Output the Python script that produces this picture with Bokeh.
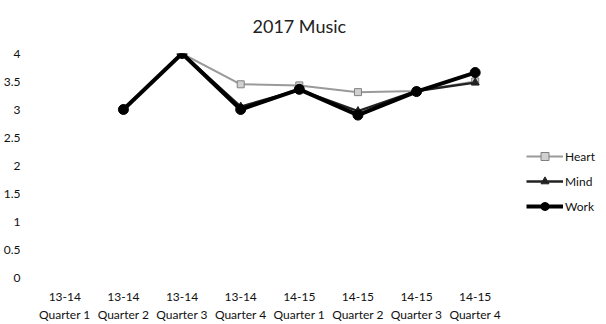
import numpy as np
from bokeh.plotting import figure
from bokeh.models import Legend, LegendItem, FixedTicker, Range1d
from bokeh.embed import file_html
from bokeh.resources import INLINE

years = ["13-14", "13-14", "13-14", "13-14", "14-15", "14-15", "14-15", "14-15"]
quarters = ["Quarter 1", "Quarter 2", "Quarter 3", "Quarter 4",
            "Quarter 1", "Quarter 2", "Quarter 3", "Quarter 4"]
heart = [np.nan, 3.0, 4.0, 3.45, 3.43, 3.31, 3.33, 3.5]
mind = [np.nan, 3.0, 4.0, 3.05, 3.35, 2.97, 3.33, 3.48]
work = [np.nan, 3.0, 4.0, 3.0, 3.36, 2.9, 3.32, 3.66]
y_ticks = [0, 0.5, 1, 1.5, 2, 2.5, 3, 3.5, 4]

FONT = "Lato"
x = list(range(1, len(years) + 1))

p = figure(frame_width=469, frame_height=224, output_backend="svg", toolbar_location=None,
           x_range=Range1d(0.5, len(x) + 0.5), y_range=Range1d(0, 4),
           min_border_left=28, min_border_right=0, min_border_top=46,
           min_border_bottom=30)
p.title.text = "2017 Music"
p.title.align = "left"
p.title.vertical_align = "top"
p.title.text_font = FONT
p.title.text_font_size = "18px"
p.title.text_font_style = "normal"
p.title.text_color = "#222222"
p.title.text_line_height = 0.6
p.title.offset = 217
p.title.standoff = 29

p.outline_line_color = None
p.xgrid.grid_line_color = None
p.ygrid.grid_line_color = None

for ax in (p.xaxis[0], p.yaxis[0]):
    ax.axis_line_color = None
    ax.major_tick_line_color = None
    ax.minor_tick_line_color = None
    ax.major_tick_out = 0
    ax.major_tick_in = 0
    ax.major_label_text_font = FONT
    ax.major_label_text_color = "#111111"
    ax.major_label_text_font_size = "12px"

p.yaxis.ticker = FixedTicker(ticks=y_ticks)
p.yaxis.major_label_overrides = {t: ("%g" % t) for t in y_ticks}
p.yaxis.major_label_standoff = 15
p.xaxis.ticker = FixedTicker(ticks=x)
p.xaxis.major_label_overrides = {i: f"{y}\n{q}" for i, y, q in zip(x, years, quarters)}
p.xaxis.major_label_standoff = 11

hl = p.line(x, heart, line_color="#9a9a9a", line_width=2)
hm = p.scatter(x, heart, marker="square", size=7, fill_color="#d0d0d0",
               line_color="#808080", line_width=1)
ml = p.line(x, mind, line_color="#222222", line_width=2.5)
mm = p.scatter(x, mind, marker="triangle", size=8, fill_color="#222222",
               line_color="#222222")
wl = p.line(x, work, line_color="#000000", line_width=4)
wm = p.scatter(x, work, marker="circle", size=10, fill_color="#000000",
               line_color="#000000")

legend = Legend(items=[
    LegendItem(label="Heart", renderers=[hl, hm]),
    LegendItem(label="Mind", renderers=[ml, mm]),
    LegendItem(label="Work", renderers=[wl, wm]),
], location=(22, 61))
legend.background_fill_alpha = 0
legend.border_line_color = None
legend.label_text_font = FONT
legend.label_text_font_size = "12px"
legend.label_text_color = "#111111"
legend.glyph_width = 37
legend.glyph_height = 20
legend.label_height = 20
legend.spacing = 5
legend.padding = 0
legend.margin = 22
legend.label_standoff = 2
p.add_layout(legend, "right")

open("out.html", "w").write(file_html(p, INLINE))
